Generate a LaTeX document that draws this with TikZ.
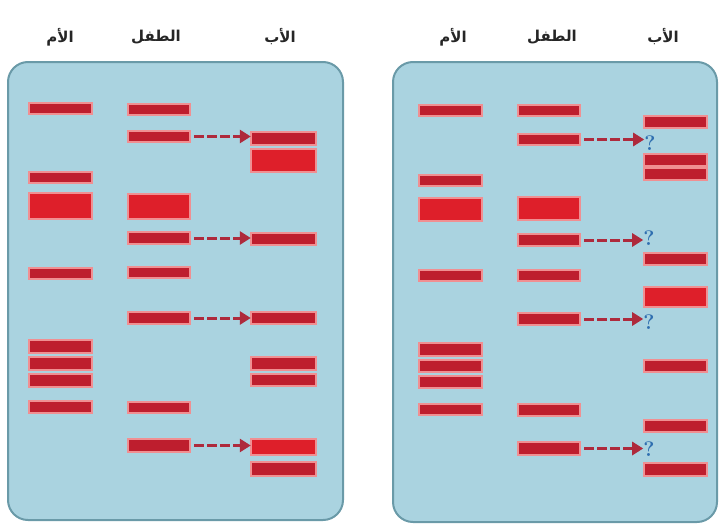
\documentclass[tikz,border=0pt]{standalone}
\usepackage{fontspec}
\usetikzlibrary{arrows.meta}
\TeXXeTstate=1
\newfontfamily\arabicfont[Script=Arabic]{DejaVu Sans}

\definecolor{gelbg}{HTML}{AAD3E0}
\definecolor{gelrim}{HTML}{6A9AA8}
\definecolor{bandred}{HTML}{BE1E2E}
\definecolor{bandhot}{HTML}{DE1F2A}
\definecolor{bandglow}{HTML}{F08F92}
\definecolor{arrowred}{HTML}{AE2A3C}
\definecolor{qblue}{HTML}{2F6FB0}

\tikzset{
  panel/.style={fill=gelbg, draw=gelrim, line width=2pt, rounded corners=20pt},
  band/.style={rectangle, fill=bandred, draw=bandglow, line width=1.6pt, inner sep=0pt, outer sep=0pt},
  hot/.style={fill=bandhot},
  lbl/.style={font=\arabicfont\bfseries\fontsize{15}{18}\selectfont, text=black!85, inner sep=0pt},
  link/.style={draw=arrowred, line width=3pt, dash pattern=on 10pt off 3pt,
               -{Triangle[length=11pt,width=13pt]}, shorten <=4pt},
  qmark/.style={text=qblue, font=\bfseries\fontsize{21}{21}\selectfont, inner sep=0pt}
}

% name, left, top, right, bottom (outer extent, image pixels)
\newcommand{\gelband}[6][]{%
  \node[band,#1, anchor=north west,
        minimum width={(#5-#3-1.6)*1pt}, minimum height={(#6-#4-1.6)*1pt}]
        (#2) at (#3+0.8,#4+0.8) {};}

\begin{document}
\begin{tikzpicture}[x=1pt,y=-1pt]
\useasboundingbox (0,0) rectangle (719,527);

% gel panels
\path[panel] (8,62) rectangle (343,520);
\path[panel] (393,62) rectangle (717,522);

% lane headings
\node[lbl] (lmh) at (60,37) {\beginR الأم\endR};
\node[lbl] (lch) at (156,37) {\beginR الطفل\endR};
\node[lbl] (lfh) at (280,37) {\beginR الأب\endR};
\node[lbl] (rmh) at (453,37) {\beginR الأم\endR};
\node[lbl] (rch) at (552,37) {\beginR الطفل\endR};
\node[lbl] (rfh) at (663,37) {\beginR الأب\endR};

% ---- left gel ----
% mother
\gelband{lm1}{28}{102}{93}{115}
\gelband{lm2}{28}{171}{93}{184}
\gelband[hot]{lm3}{28}{192}{93}{220}
\gelband{lm4}{28}{267}{93}{280}
\gelband{lm5}{28}{339}{93}{354}
\gelband{lm6}{28}{356}{93}{371}
\gelband{lm7}{28}{373}{93}{388}
\gelband{lm8}{28}{400}{93}{414}
% child
\gelband{lc1}{127}{103}{191}{116}
\gelband{lc2}{127}{130}{191}{143}
\gelband[hot]{lc3}{127}{193}{191}{220}
\gelband{lc4}{127}{231}{191}{245}
\gelband{lc5}{127}{266}{191}{279}
\gelband{lc6}{127}{311}{191}{325}
\gelband{lc7}{127}{401}{191}{414}
\gelband{lc8}{127}{438}{191}{453}
% father
\gelband{lf1}{250}{131}{317}{146}
\gelband[hot]{lf2}{250}{148}{317}{173}
\gelband{lf3}{250}{232}{317}{246}
\gelband{lf4}{250}{311}{317}{325}
\gelband{lf5}{250}{356}{317}{371}
\gelband{lf6}{250}{373}{317}{387}
\gelband[hot]{lf7}{250}{438}{317}{456}
\gelband{lf8}{250}{461}{317}{477}

\draw[link] (lc2.east) -- (lc2.east -| lf1.west);
\draw[link] (lc4.east) -- (lc4.east -| lf3.west);
\draw[link] (lc6.east) -- (lc6.east -| lf4.west);
\draw[link] (lc8.east) -- (lc8.east -| lf7.west);

% ---- right gel ----
% mother
\gelband{rm1}{418}{104}{483}{117}
\gelband{rm2}{418}{174}{483}{187}
\gelband[hot]{rm3}{418}{197}{483}{222}
\gelband{rm4}{418}{269}{483}{282}
\gelband{rm5}{418}{342}{483}{357}
\gelband{rm6}{418}{359}{483}{373}
\gelband{rm7}{418}{375}{483}{389}
\gelband{rm8}{418}{403}{483}{416}
% child
\gelband{rc1}{517}{104}{581}{117}
\gelband{rc2}{517}{133}{581}{146}
\gelband[hot]{rc3}{517}{196}{581}{221}
\gelband{rc4}{517}{233}{581}{247}
\gelband{rc5}{517}{269}{581}{282}
\gelband{rc6}{517}{312}{581}{326}
\gelband{rc7}{517}{403}{581}{417}
\gelband{rc8}{517}{441}{581}{456}
% father
\gelband{rf1}{643}{115}{708}{129}
\gelband{rf2}{643}{153}{708}{167}
\gelband{rf3}{643}{167}{708}{181}
\gelband{rf4}{643}{252}{708}{266}
\gelband[hot]{rf5}{643}{286}{708}{308}
\gelband{rf6}{643}{359}{708}{373}
\gelband{rf7}{643}{419}{708}{433}
\gelband{rf8}{643}{462}{708}{477}

% unknown paternal bands
\node[qmark] (q1) at (650,143) {?};
\node[qmark] (q2) at (649,238) {?};
\node[qmark] (q3) at (649,322) {?};
\node[qmark] (q4) at (649,449) {?};

\draw[link] (rc2.east) -- (rc2.east -| q1.west);
\draw[link] (rc4.east) -- (rc4.east -| q2.west);
\draw[link] (rc6.east) -- (rc6.east -| q3.west);
\draw[link] (rc8.east) -- (rc8.east -| q4.west);
\end{tikzpicture}
\end{document}
